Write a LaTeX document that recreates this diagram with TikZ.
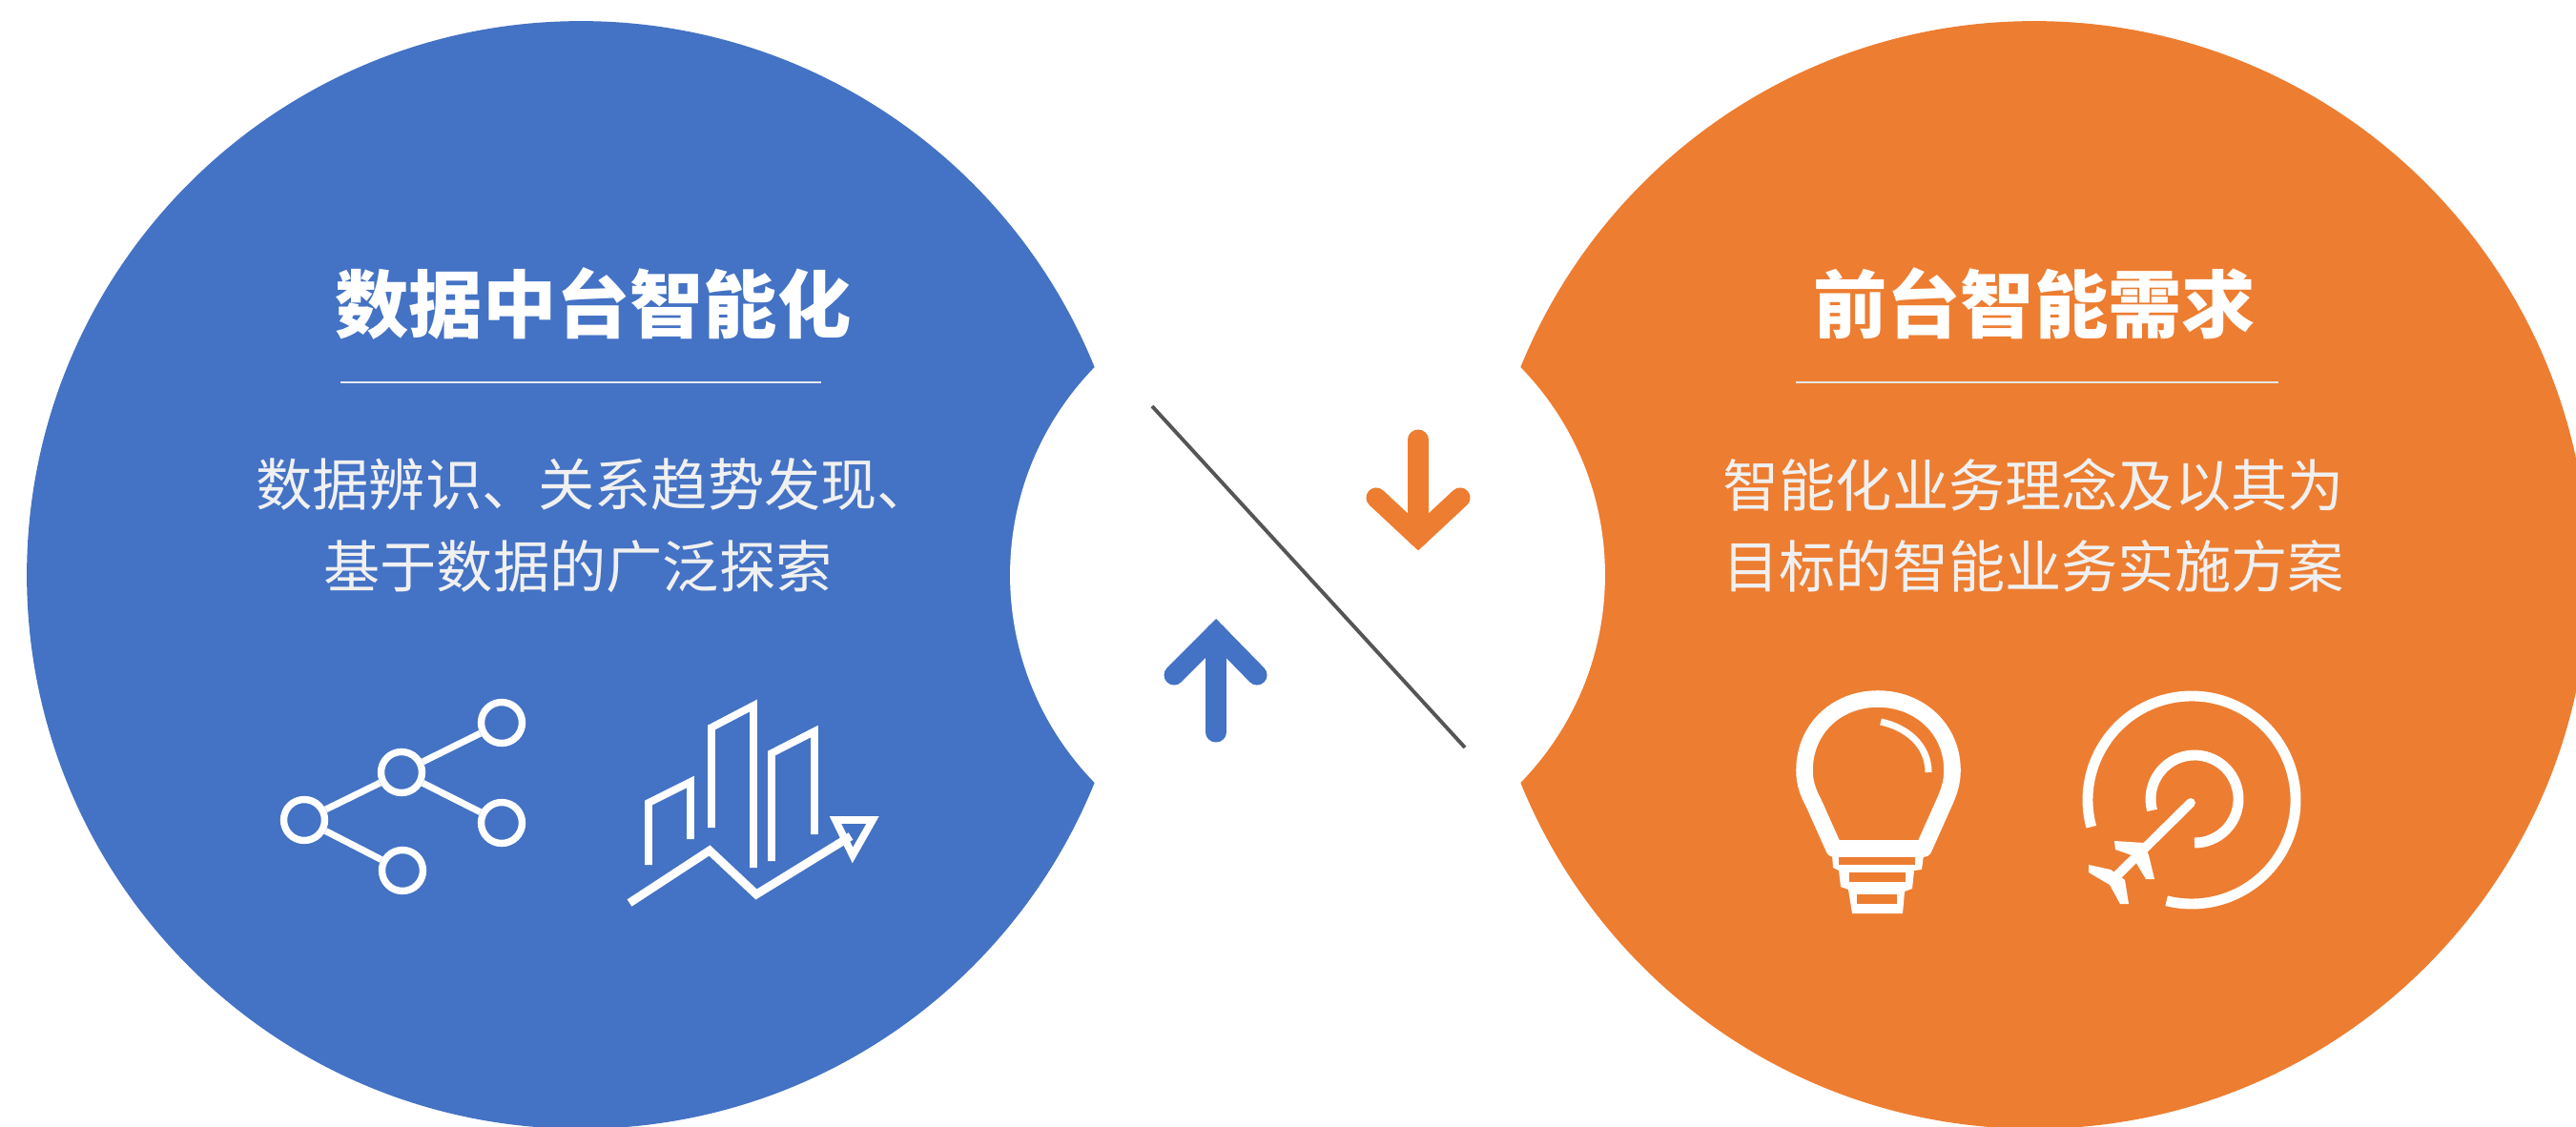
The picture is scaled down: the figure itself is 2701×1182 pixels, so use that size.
\documentclass[tikz,border=0pt]{standalone}
\usepackage{fontspec}
\setmainfont{Noto Sans CJK SC}
\definecolor{discblue}{HTML}{4472C4}
\definecolor{discorange}{HTML}{ED7D31}
\definecolor{paleline}{HTML}{E4E9F2}
\definecolor{slashgrey}{HTML}{555555}
\tikzset{
  disc/.style = {
    circle,                     % all three round shapes
    draw          = none,       % no border
    inner sep     = 0pt,        % empty node
    minimum size  = 23.24cm,    % 1162 px
  },
  notch/.style = {
    disc,
    fill          = white,
    minimum size  = 12.48cm,    % 624 px
  },
  titletext/.style = {
    font          = \fontsize{44}{50}\selectfont\bfseries,
    text          = white,      % label color
    inner sep     = 0pt,
  },
  bodytext/.style = {
    font          = \fontsize{33.7}{48.8}\selectfont,
    text          = white!94!black,
    align         = center,
    inner sep     = 0pt,
  },
  rulewhite/.style = {
    draw          = paleline,
    line width    = 1.6pt,
  },
  netdot/.style = {
    circle,
    draw          = white,
    line width    = 4.2pt,      % ring width
    minimum size  = .86cm,
    inner sep     = 0pt,
  },
  netlink/.style = {
    draw          = white,
    line width    = 4pt,
  },
  iconline/.style = {
    draw          = white,
    line width    = 4.4pt,
    line join     = miter,
  },
  targetline/.style = {
    draw          = white,
    line width    = 6.2pt,
  },
  bigarrow/.style = {
    line width    = 12pt,
    line cap      = round,
    line join     = miter,
    miter limit   = 10,
  },
}
\begin{document}
\begin{tikzpicture}[x=.02cm, y=-.02cm]
\useasboundingbox (0, 0) rectangle (2701, 1182);
\clip (0, 0) rectangle (2701, 1182);

% the two discs and the bite taken out of them
\node at (609, 603)  [disc, fill = discblue]   (datadisc)  {};
\node at (2133, 603) [disc, fill = discorange] (frontdisc) {};
\node at (1371, 603) [notch]                   (middle)    {};

% left texts
\node at (622, 318) [titletext] (datatitle) {数据中台智能化};
\coordinate (dataruleL) at (357, 401);
\coordinate (dataruleR) at (861, 401);
\draw [rulewhite] (dataruleL) -- (dataruleR);
\node at (606, 551) [bodytext] (databody)
  {数据辨识、关系趋势发现、\kern-.6em\\基于数据的广泛探索};

% right texts
\node at (2133, 318) [titletext] (fronttitle) {前台智能需求};
\coordinate (frontruleL) at (1883, 401);
\coordinate (frontruleR) at (2389, 401);
\draw [rulewhite] (frontruleL) -- (frontruleR);
\node at (2132, 551) [bodytext] (frontbody)
  {智能化业务理念及以其为\\目标的智能业务实施方案};

% slash and the two arrows
\coordinate (slashA) at (1208, 426);
\coordinate (slashB) at (1536, 784);
\draw [slashgrey, line width = 2.2pt] (slashA) -- (slashB);

\coordinate (downA) at (1487, 461);
\coordinate (downB) at (1487, 563);
\draw [bigarrow, discorange] (downA) -- (downB);
\draw [bigarrow, discorange] (1443, 522) -- (downB) -- (1531, 522);

\coordinate (upA) at (1275, 768);
\coordinate (upB) at (1275, 664);
\draw [bigarrow, discblue] (upA) -- (upB);
\draw [bigarrow, discblue] (1231, 708) -- (upB) -- (1318, 708);

% network icon
\node at (421, 810) [netdot] (nethub)   {};
\node at (526, 758) [netdot] (nettop)   {};
\node at (526, 863) [netdot] (netright) {};
\node at (319, 860) [netdot] (netleft)  {};
\node at (422, 913) [netdot] (netlow)   {};
\draw [netlink] (nethub) -- (nettop);
\draw [netlink] (nethub) -- (netright);
\draw [netlink] (nethub) -- (netleft);
\draw [netlink] (netleft) -- (netlow);

% towers icon
\draw [iconline] (680, 907) -- (680, 842) -- (724, 820) -- (724, 880);
\draw [iconline] (746, 868) -- (746, 763) -- (790, 740) -- (790, 910);
\draw [iconline] (809, 903) -- (809, 790) -- (854, 767) -- (854, 875);
\draw [iconline, line width = 5pt] (660, 947) -- (744, 892) -- (793, 938) -- (892, 877);
\draw [iconline] (876, 860) -- (915, 860) -- (894, 897) -- cycle;

% bulb icon
\draw [white, line width = 10pt, line join = round]
  (1923, 890) -- (1902, 843)
  .. controls (1895, 830) and (1892, 820) .. (1892, 808)
  .. controls (1892, 765) and (1925, 733) .. (1969, 733)
  .. controls (2013, 733) and (2047, 765) .. (2047, 808)
  .. controls (2047, 820) and (2044, 830) .. (2038, 843)
  -- (2017, 890) -- cycle;
\draw [iconline, line width = 4pt]
  (1972, 757) .. controls (2000, 763) and (2022, 782) .. (2022, 810);
\fill [white] (1921, 897) -- (2017, 897) -- (2015, 912) -- (2007, 913)
  -- (2005, 932) -- (1997, 935) -- (1995, 958) -- (1942, 958)
  -- (1938, 933) -- (1930, 930) -- (1928, 913) -- (1922, 910) -- cycle;
\fill [discorange] (1928, 898.5) rectangle (2008, 907);
\fill [discorange] (1939, 915) rectangle (1998, 925);
\fill [discorange] (1947, 938) rectangle (1989, 948);

% target icon, y runs downwards so the angles are mirrored
\draw [targetline] (2298, 839) ++(-195:109) arc [start angle = -195, end angle = 104, radius = 109];
\draw [targetline] (2301, 838) ++(-195:46)  arc [start angle = -195, end angle = 90,  radius = 46];
\draw [white, line width = 5.6pt, line cap = round] (2297, 842) -- (2220, 918);
\fill [white] (2217, 882) -- (2248, 884) -- (2253, 897) -- (2259, 922)
  -- (2250, 922) -- (2235, 897) -- (2218, 891) -- cycle;
\fill [white] (2190, 907) -- (2213, 912) -- (2228, 923) -- (2232, 948)
  -- (2223, 948) -- (2212, 928) -- (2190, 915) -- cycle;
\end{tikzpicture}
\end{document}
